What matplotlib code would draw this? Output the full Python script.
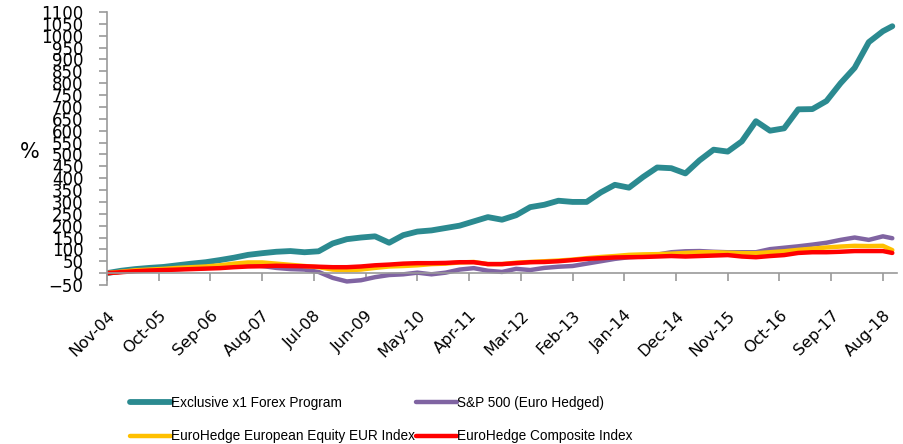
import numpy as np
import matplotlib
matplotlib.use("Agg")
import matplotlib.pyplot as plt


# months since Nov-04, every quarter
months = [0, 3, 6, 9, 12, 15, 18, 21, 24, 27, 30, 33, 36, 39, 42, 45, 48, 51, 54, 57,
          60, 63, 66, 69, 72, 75, 78, 81, 84, 87, 90, 93, 96, 99, 102, 105, 108, 111,
          114, 117, 120, 123, 126, 129, 132, 135, 138, 141, 144, 147, 150, 153, 156,
          159, 162, 165, 167]

forex = [0, 10, 17, 22, 26, 33, 40, 46, 55, 65, 77, 84, 90, 93, 88, 92, 125, 143, 150,
         155, 128, 160, 175, 180, 190, 200, 218, 236, 225, 244, 278, 288, 305, 300, 300,
         340, 372, 360, 405, 445, 442, 420, 475, 520, 512, 555, 640, 600, 610, 690, 691,
         725, 800, 865, 973, 1019, 1040]

sp500 = [0, 5, 10, 12, 15, 17, 20, 22, 27, 32, 35, 30, 22, 17, 15, 5, -20, -35, -30,
         -17, -8, -5, 2, -5, 2, 15, 21, 10, 5, 18, 13, 22, 27, 30, 40, 50, 60, 67, 70,
         78, 88, 92, 93, 90, 88, 88, 88, 101, 107, 113, 120, 128, 140, 150, 140, 155, 147]

eu_equity = [0, 6, 12, 15, 18, 22, 25, 28, 33, 40, 45, 45, 40, 35, 30, 25, 15, 12, 15,
             22, 28, 30, 33, 38, 40, 45, 47, 38, 38, 44, 47, 50, 53, 57, 63, 68, 72, 77,
             79, 80, 82, 85, 88, 88, 86, 84, 84, 88, 92, 98, 103, 108, 112, 115, 114,
             115, 97]

composite = [0, 4, 8, 11, 13, 15, 17, 19, 21, 25, 28, 29, 31, 30, 29, 27, 25, 25, 28,
             33, 36, 40, 42, 42, 43, 46, 46, 38, 38, 42, 46, 47, 50, 55, 60, 63, 66, 67,
             68, 70, 72, 70, 72, 74, 76, 70, 67, 72, 76, 85, 88, 88, 90, 93, 93, 93, 85]

tick_labels = ["Nov-04", "Oct-05", "Sep-06", "Aug-07", "Jul-08", "Jun-09", "May-10",
               "Apr-11", "Mar-12", "Feb-13", "Jan-14", "Dec-14", "Nov-15", "Oct-16",
               "Sep-17", "Aug-18"]

names = ["Exclusive x1 Forex Program", "S&P 500 (Euro Hedged)",
         "EuroHedge European Equity EUR Index", "EuroHedge Composite Index"]
colors = ["#2b8a90", "#8064a2", "#ffc000", "#ff0000"]

fig = plt.figure(figsize=(9.04, 4.44), dpi=100)
ax = fig.add_axes([107 / 904, 1 - 285 / 444, 790 / 904, 273 / 444])

lines = []
for vals, name, col, lw in zip([forex, sp500, eu_equity, composite], names, colors,
                               [4.2, 3.2, 3.2, 3.2]):
    ln, = ax.plot(months, vals, color=col, lw=lw, label=name,
                  solid_joinstyle="round", solid_capstyle="round")
    lines.append(ln)

ax.set_xlim(0, 168)
ax.set_ylim(-50, 1100)
ax.set_yticks(np.arange(-50, 1101, 50))
ax.set_xticks(np.arange(0, 166, 11))
ax.set_xticklabels(tick_labels)

for s in ["top", "right"]:
    ax.spines[s].set_visible(False)
ax.spines["bottom"].set_position(("data", 0))
for s in ["left", "bottom"]:
    ax.spines[s].set_color("#9a9a9a")
    ax.spines[s].set_linewidth(1.2)

ax.tick_params(axis="y", direction="out", length=6, width=1.2, color="#9a9a9a",
               labelsize=12, pad=11)
ax.tick_params(axis="x", direction="out", length=6, width=1.2, color="#9a9a9a",
               labelsize=11.5, pad=19, labelrotation=45)
plt.setp(ax.get_xticklabels(), ha="right", va="top", rotation_mode="anchor")

fig.text(20 / 904, 1 - 152 / 444, "%", fontsize=15, ha="left", va="center")

order = [0, 2, 1, 3]
leg = fig.legend([lines[i] for i in order], [names[i] for i in order],
                 loc="upper left", bbox_to_anchor=(118 / 904, 1 - 384 / 444),
                 ncol=2, frameon=False, handlelength=3.0, handletextpad=0.0,
                 columnspacing=0.1, labelspacing=1.4,
                 prop={"family": "Liberation Sans", "size": 9.8})

fig.savefig("out.png", dpi=100)
